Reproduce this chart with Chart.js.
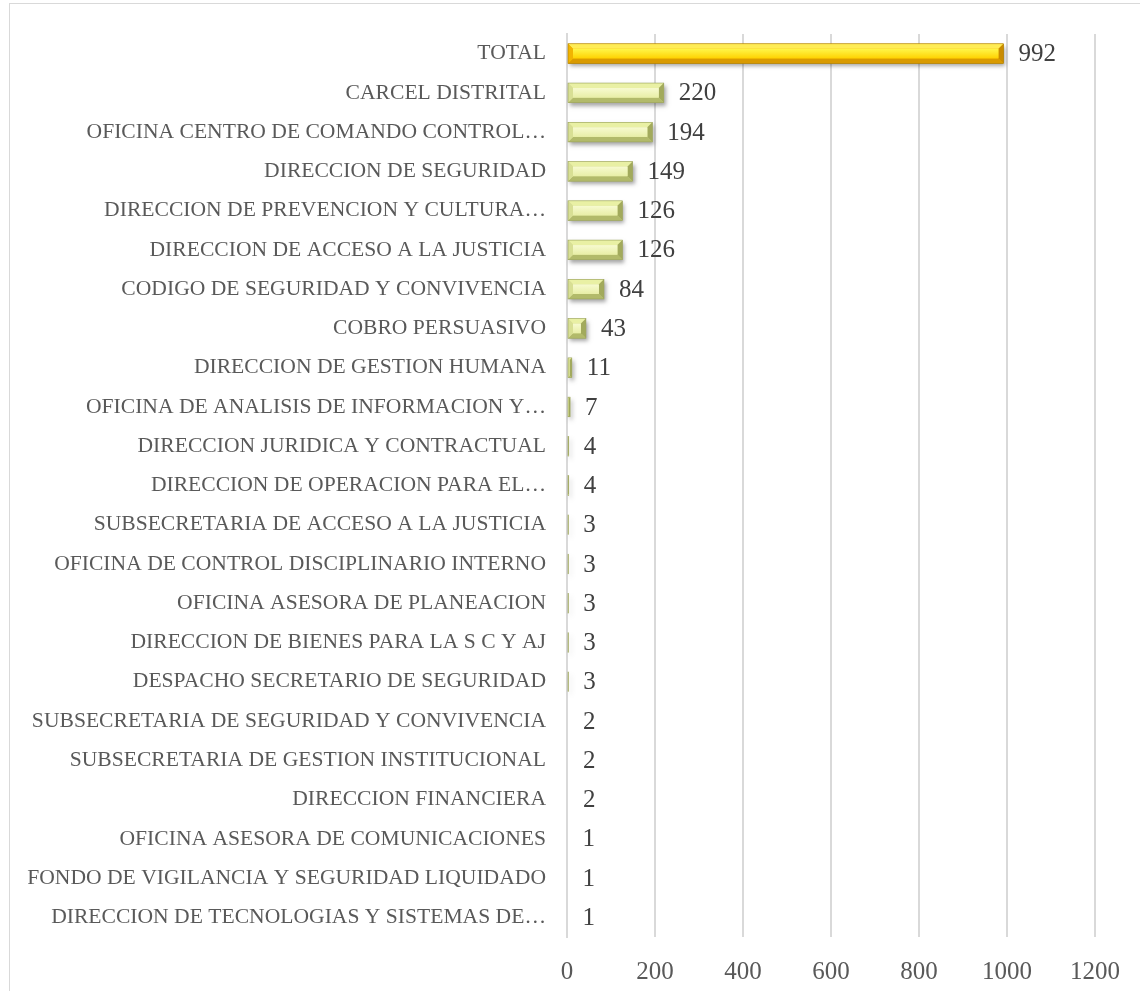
<!DOCTYPE html>
<html>
<head>
<meta charset="utf-8">
<script src="https://cdn.jsdelivr.net/npm/chart.js@4"></script>
<style>
  html, body { margin: 0; padding: 0; background: #fff; }
  #wrap { position: relative; width: 1140px; height: 991px; overflow: hidden; }
  #frame { position: absolute; left: 9px; top: 3px; width: 1200px; height: 1100px;
           border-left: 1px solid #d9d9d9; border-top: 1px solid #d9d9d9; }
  canvas { position: absolute; left: 0; top: 0; }
</style>
</head>
<body>
<div id="wrap">
  <div id="frame"></div>
  <canvas id="chart" width="1140" height="991"></canvas>
</div>
<script>
// dependencias y cantidades
const dependencias = [
  "TOTAL",
  "CARCEL DISTRITAL",
  "OFICINA CENTRO DE COMANDO CONTROL…",
  "DIRECCION DE SEGURIDAD",
  "DIRECCION DE PREVENCION Y CULTURA…",
  "DIRECCION DE ACCESO A LA JUSTICIA",
  "CODIGO DE SEGURIDAD Y CONVIVENCIA",
  "COBRO PERSUASIVO",
  "DIRECCION DE GESTION HUMANA",
  "OFICINA DE ANALISIS DE INFORMACION Y…",
  "DIRECCION JURIDICA Y CONTRACTUAL",
  "DIRECCION DE OPERACION PARA EL…",
  "SUBSECRETARIA DE ACCESO A LA JUSTICIA",
  "OFICINA DE CONTROL DISCIPLINARIO INTERNO",
  "OFICINA ASESORA DE PLANEACION",
  "DIRECCION DE BIENES PARA LA S C Y AJ",
  "DESPACHO SECRETARIO DE SEGURIDAD",
  "SUBSECRETARIA DE SEGURIDAD Y CONVIVENCIA",
  "SUBSECRETARIA DE GESTION INSTITUCIONAL",
  "DIRECCION FINANCIERA",
  "OFICINA ASESORA DE COMUNICACIONES",
  "FONDO DE VIGILANCIA Y SEGURIDAD LIQUIDADO",
  "DIRECCION DE TECNOLOGIAS Y SISTEMAS DE…"
];
const cantidades = [992, 220, 194, 149, 126, 126, 84, 43, 11, 7, 4, 4, 3, 3, 3, 3, 3, 2, 2, 2, 1, 1, 1];
const xTicks = [0, 200, 400, 600, 800, 1000, 1200];

const FONT = "'Liberation Serif', 'DejaVu Serif', serif";

const gold = { top: '#ffec55', f1: '#fff64a', f2: '#ffd200', bottom: '#d99a00',
               left: '#f2b400', right: '#c98b00', edge: '#a87a00' };
const pale = { top: '#e9f0a4', f1: '#f7fad0', f2: '#e8eea6', bottom: '#b2ba6a',
               left: '#d8df94', right: '#a2aa5c', edge: '#98a05a' };

function poly(ctx, color, pts) {
  ctx.beginPath();
  ctx.moveTo(pts[0][0], pts[0][1]);
  for (let i = 1; i < pts.length; i++) ctx.lineTo(pts[i][0], pts[i][1]);
  ctx.closePath();
  ctx.fillStyle = color;
  ctx.fill();
}

// bevel look like the office chart
function bevelBar(ctx, x0, x1, yt, yb, pal) {
  const w = x1 - x0, h = yb - yt;
  if (w <= 0) return;
  const b = Math.min(5, w / 2, h / 2);
  ctx.save();
  ctx.shadowColor = 'rgba(0,0,0,0.35)';
  ctx.shadowBlur = 4;
  ctx.shadowOffsetX = 2;
  ctx.shadowOffsetY = 3;
  ctx.fillStyle = pal.left;
  ctx.fillRect(x0, yt, w, h);
  ctx.restore();
  poly(ctx, pal.top, [[x0, yt], [x1, yt], [x1 - b, yt + b], [x0 + b, yt + b]]);
  poly(ctx, pal.bottom, [[x0, yb], [x1, yb], [x1 - b, yb - b], [x0 + b, yb - b]]);
  poly(ctx, pal.left, [[x0, yt], [x0 + b, yt + b], [x0 + b, yb - b], [x0, yb]]);
  poly(ctx, pal.right, [[x1, yt], [x1 - b, yt + b], [x1 - b, yb - b], [x1, yb]]);
  if (w > 2 * b) {
    const g = ctx.createLinearGradient(0, yt + b, 0, yb - b);
    g.addColorStop(0, pal.f1);
    g.addColorStop(1, pal.f2);
    ctx.fillStyle = g;
    ctx.fillRect(x0 + b, yt + b, w - 2 * b, h - 2 * b);
  }
  ctx.strokeStyle = pal.edge;
  ctx.lineWidth = 0.6;
  ctx.strokeRect(x0, yt, w, h);
}

const bevelPlugin = {
  id: 'bevel',
  afterDatasetsDraw(chart) {
    const ctx = chart.ctx;
    const meta = chart.getDatasetMeta(0);
    ctx.save();
    meta.data.forEach((bar, i) => {
      const p = bar.getProps(['x', 'y', 'base', 'height'], true);
      const yt = p.y - p.height / 2, yb = p.y + p.height / 2;
      bevelBar(ctx, p.base, p.x, yt, yb, i === 0 ? gold : pale);
      // value label
      ctx.fillStyle = '#404040';
      ctx.font = '25px ' + FONT;
      ctx.textAlign = 'left';
      ctx.textBaseline = 'middle';
      ctx.fillText(String(cantidades[i]), p.x + 15, p.y + 1);
    });
    ctx.restore();
  }
};

new Chart(document.getElementById('chart'), {
  type: 'bar',
  data: {
    labels: dependencias,
    datasets: [{
      data: cantidades,
      backgroundColor: 'rgba(0,0,0,0)',
      borderWidth: 0,
      categoryPercentage: 1,
      barPercentage: 0.5
    }]
  },
  options: {
    indexAxis: 'y',
    responsive: false,
    animation: false,
    layout: { padding: { top: 33, right: 40, left: 0, bottom: 0 } },
    plugins: { legend: { display: false }, tooltip: { enabled: false } },
    scales: {
      x: {
        min: 0,
        max: 1200,
        afterBuildTicks(s) { s.ticks = xTicks.map(v => ({ value: v })); },
        afterFit(s) { s.height = 54; },
        grid: { color: '#d9d9d9', lineWidth: 2, drawTicks: false },
        border: { display: false },
        ticks: { color: '#595959', font: { family: FONT, size: 25 }, padding: 20,
                 callback: v => String(v) }
      },
      y: {
        afterFit(s) { s.width = 567; },
        grid: { display: false, drawTicks: false },
        border: { display: true, color: '#d9d9d9', width: 2 },
        ticks: { color: '#595959', font: { family: FONT, size: 21.6 }, padding: 21, autoSkip: false }
      }
    }
  },
  plugins: [bevelPlugin]
});
</script>
</body>
</html>
